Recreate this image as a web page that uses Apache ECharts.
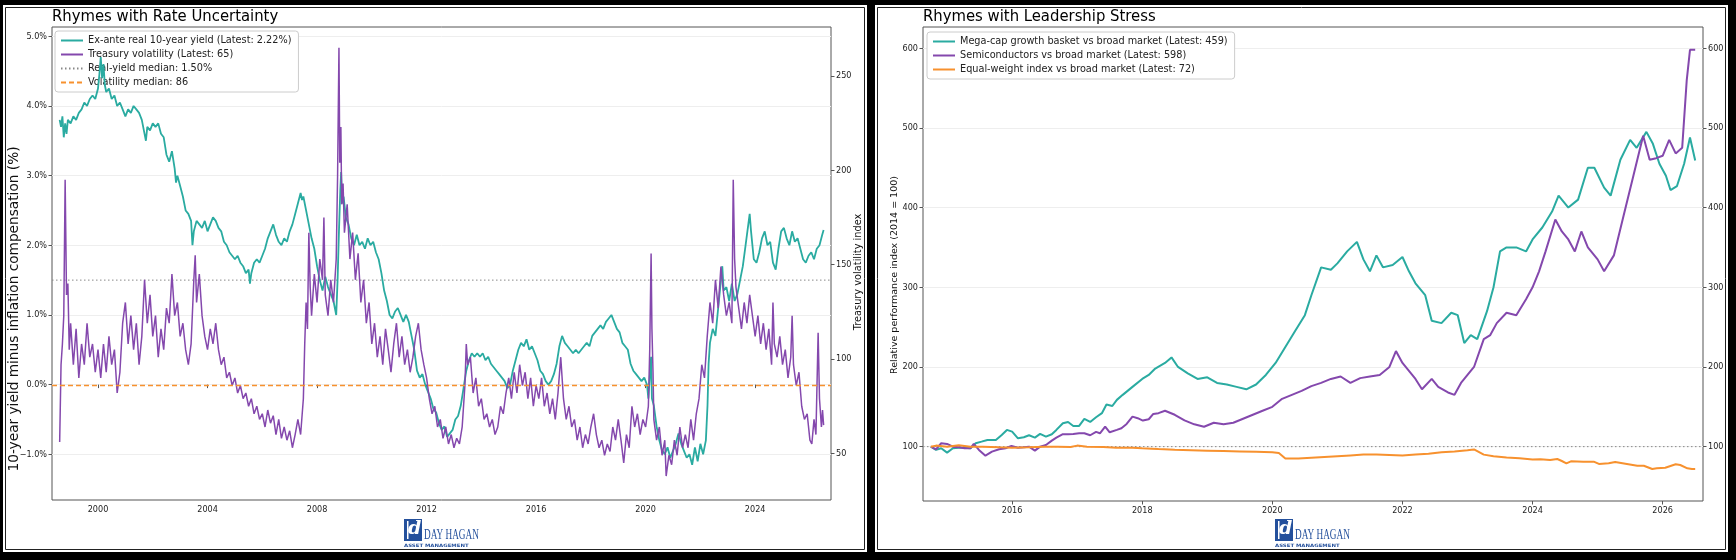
<!DOCTYPE html>
<html>
<head>
<meta charset="utf-8">
<script src="https://cdn.jsdelivr.net/npm/echarts@6/dist/echarts.min.js"></script>
<style>
  html, body { margin: 0; padding: 0; background: #000; }
  #chart { width: 1736px; height: 560px; }
</style>
</head>
<body>
<div id="chart"></div>
<script>
// ---------- left panel: real yield (%) ----------
var yieldDates = [1998.6,1998.65,1998.7,1998.75,1998.8,1998.85,1998.9,1999.0,1999.1,1999.2,1999.3,1999.4,1999.5,1999.6,1999.7,1999.8,1999.9,2000.0,2000.05,2000.1,2000.15,2000.2,2000.25,2000.3,2000.4,2000.5,2000.6,2000.7,2000.8,2000.9,2001.0,2001.1,2001.2,2001.3,2001.4,2001.5,2001.6,2001.7,2001.75,2001.8,2001.9,2002.0,2002.1,2002.2,2002.3,2002.4,2002.5,2002.6,2002.7,2002.8,2002.85,2002.9,2003.0,2003.1,2003.2,2003.3,2003.4,2003.45,2003.5,2003.6,2003.7,2003.8,2003.9,2004.0,2004.1,2004.2,2004.3,2004.4,2004.5,2004.6,2004.7,2004.8,2004.9,2005.0,2005.1,2005.2,2005.3,2005.4,2005.5,2005.55,2005.6,2005.7,2005.8,2005.9,2006.0,2006.1,2006.2,2006.3,2006.4,2006.5,2006.6,2006.7,2006.8,2006.9,2007.0,2007.1,2007.2,2007.3,2007.4,2007.45,2007.5,2007.6,2007.7,2007.8,2007.9,2008.0,2008.1,2008.2,2008.3,2008.4,2008.5,2008.6,2008.7,2008.75,2008.8,2008.85,2008.88,2008.92,2008.97,2009.05,2009.15,2009.25,2009.35,2009.45,2009.55,2009.65,2009.75,2009.85,2009.95,2010.05,2010.15,2010.25,2010.35,2010.45,2010.55,2010.65,2010.75,2010.85,2010.95,2011.05,2011.15,2011.25,2011.35,2011.45,2011.55,2011.65,2011.75,2011.85,2011.95,2012.05,2012.15,2012.25,2012.35,2012.45,2012.55,2012.65,2012.75,2012.85,2012.95,2013.05,2013.15,2013.25,2013.35,2013.45,2013.55,2013.65,2013.75,2013.85,2013.95,2014.05,2014.15,2014.25,2014.35,2014.45,2014.55,2014.65,2014.75,2014.85,2014.95,2015.05,2015.15,2015.25,2015.35,2015.45,2015.55,2015.65,2015.75,2015.85,2015.95,2016.05,2016.15,2016.25,2016.35,2016.45,2016.55,2016.65,2016.75,2016.85,2016.95,2017.05,2017.15,2017.25,2017.35,2017.45,2017.55,2017.65,2017.75,2017.85,2017.95,2018.05,2018.15,2018.25,2018.35,2018.45,2018.55,2018.65,2018.75,2018.85,2018.95,2019.05,2019.15,2019.25,2019.35,2019.45,2019.55,2019.65,2019.75,2019.85,2019.95,2020.05,2020.1,2020.15,2020.2,2020.23,2020.3,2020.4,2020.5,2020.59,2020.7,2020.8,2020.9,2021.0,2021.1,2021.2,2021.3,2021.4,2021.5,2021.6,2021.7,2021.8,2021.9,2022.0,2022.1,2022.2,2022.26,2022.3,2022.35,2022.45,2022.55,2022.65,2022.75,2022.8,2022.85,2022.95,2023.05,2023.15,2023.25,2023.35,2023.45,2023.55,2023.65,2023.75,2023.8,2023.85,2023.95,2024.05,2024.15,2024.25,2024.35,2024.45,2024.55,2024.65,2024.75,2024.85,2024.95,2025.05,2025.15,2025.25,2025.35,2025.45,2025.55,2025.65,2025.75,2025.85,2025.95,2026.05,2026.15,2026.25,2026.35,2026.45,2026.5];
var yieldVals = [3.8,3.7,3.85,3.55,3.75,3.6,3.8,3.75,3.85,3.8,3.9,3.95,4.05,4.0,4.1,4.15,4.1,4.25,4.45,4.7,4.4,4.6,4.3,4.2,4.25,4.1,4.15,4.0,4.05,3.95,3.85,3.95,3.9,4.0,3.95,3.9,3.8,3.6,3.5,3.7,3.65,3.75,3.7,3.75,3.6,3.55,3.3,3.2,3.35,3.1,2.9,3.0,2.85,2.7,2.5,2.45,2.35,2.0,2.2,2.35,2.3,2.25,2.35,2.2,2.3,2.4,2.35,2.25,2.2,2.05,2.0,1.9,1.85,1.8,1.85,1.75,1.7,1.6,1.65,1.45,1.6,1.75,1.8,1.75,1.85,1.95,2.1,2.2,2.3,2.15,2.05,2.0,2.1,2.05,2.2,2.3,2.45,2.6,2.75,2.65,2.7,2.5,2.3,2.1,1.95,1.7,1.5,1.35,1.55,1.4,1.3,1.2,1.0,1.5,2.2,2.8,3.05,2.6,2.7,2.4,2.3,2.1,2.0,2.15,2.0,2.05,1.95,2.1,2.0,2.05,1.9,1.8,1.6,1.35,1.2,1.0,0.95,1.05,1.1,1.0,0.9,1.0,0.9,0.7,0.5,0.2,0.1,0.15,0.0,-0.1,-0.2,-0.35,-0.4,-0.55,-0.65,-0.6,-0.75,-0.7,-0.65,-0.5,-0.45,-0.3,-0.05,0.2,0.35,0.45,0.4,0.45,0.4,0.45,0.35,0.4,0.3,0.25,0.2,0.15,0.1,0.05,-0.05,0.0,0.2,0.35,0.5,0.6,0.55,0.65,0.5,0.55,0.45,0.35,0.2,0.15,0.05,0.0,0.05,0.15,0.3,0.55,0.7,0.6,0.55,0.5,0.45,0.5,0.45,0.5,0.55,0.6,0.55,0.7,0.75,0.8,0.85,0.8,0.9,0.95,1.0,0.9,0.8,0.75,0.6,0.55,0.5,0.3,0.2,0.15,0.1,0.05,0.1,0.0,-0.2,0.1,0.4,-0.2,-0.3,-0.6,-0.8,-0.93,-1.0,-0.9,-1.05,-0.95,-0.85,-0.7,-0.85,-0.95,-1.05,-1.0,-1.15,-0.9,-1.1,-0.85,-1.0,-0.8,-0.3,0.3,0.6,0.8,0.7,1.1,1.5,1.7,1.35,1.4,1.2,1.45,1.2,1.3,1.5,1.7,2.0,2.3,2.45,2.2,1.8,1.75,1.9,2.1,2.2,2.0,2.05,1.75,1.65,1.95,2.2,2.25,2.1,2.0,2.2,2.05,2.1,1.95,1.8,1.75,1.85,1.9,1.8,1.95,2.0,2.15,2.22];

// ---------- left panel: treasury volatility index ----------
var volDates = [1998.6,1998.65,1998.7,1998.75,1998.8,1998.85,1998.9,1998.95,1999.0,1999.1,1999.2,1999.3,1999.4,1999.5,1999.6,1999.7,1999.8,1999.9,2000.0,2000.1,2000.2,2000.3,2000.4,2000.5,2000.6,2000.7,2000.8,2000.9,2001.0,2001.1,2001.2,2001.3,2001.4,2001.5,2001.6,2001.7,2001.8,2001.9,2002.0,2002.1,2002.2,2002.3,2002.4,2002.5,2002.6,2002.7,2002.8,2002.9,2003.0,2003.1,2003.2,2003.3,2003.4,2003.5,2003.55,2003.6,2003.7,2003.8,2003.9,2004.0,2004.1,2004.2,2004.3,2004.4,2004.5,2004.6,2004.7,2004.8,2004.9,2005.0,2005.1,2005.2,2005.3,2005.4,2005.5,2005.6,2005.7,2005.8,2005.9,2006.0,2006.1,2006.2,2006.3,2006.4,2006.5,2006.6,2006.7,2006.8,2006.9,2007.0,2007.1,2007.2,2007.3,2007.4,2007.5,2007.55,2007.6,2007.65,2007.7,2007.75,2007.8,2007.9,2008.0,2008.1,2008.2,2008.25,2008.3,2008.4,2008.5,2008.6,2008.7,2008.75,2008.8,2008.83,2008.87,2008.9,2008.95,2009.0,2009.1,2009.2,2009.3,2009.4,2009.5,2009.6,2009.7,2009.8,2009.9,2010.0,2010.1,2010.2,2010.3,2010.4,2010.5,2010.6,2010.7,2010.8,2010.9,2011.0,2011.1,2011.2,2011.3,2011.4,2011.5,2011.6,2011.7,2011.8,2011.9,2012.0,2012.1,2012.2,2012.3,2012.4,2012.5,2012.6,2012.7,2012.8,2012.9,2013.0,2013.1,2013.2,2013.3,2013.4,2013.45,2013.5,2013.6,2013.7,2013.8,2013.9,2014.0,2014.1,2014.2,2014.3,2014.4,2014.5,2014.6,2014.7,2014.8,2014.9,2015.0,2015.1,2015.2,2015.3,2015.4,2015.5,2015.6,2015.7,2015.8,2015.9,2016.0,2016.1,2016.2,2016.3,2016.4,2016.5,2016.6,2016.7,2016.8,2016.9,2017.0,2017.1,2017.2,2017.3,2017.4,2017.5,2017.6,2017.7,2017.8,2017.9,2018.0,2018.1,2018.2,2018.3,2018.4,2018.5,2018.6,2018.7,2018.8,2018.9,2019.0,2019.1,2019.2,2019.3,2019.4,2019.5,2019.6,2019.7,2019.8,2019.9,2020.0,2020.1,2020.15,2020.2,2020.23,2020.27,2020.3,2020.4,2020.5,2020.6,2020.7,2020.75,2020.85,2020.95,2021.05,2021.15,2021.25,2021.35,2021.45,2021.55,2021.65,2021.75,2021.85,2021.95,2022.05,2022.15,2022.25,2022.35,2022.45,2022.55,2022.65,2022.75,2022.85,2022.95,2023.05,2023.15,2023.2,2023.25,2023.3,2023.4,2023.5,2023.6,2023.7,2023.8,2023.9,2024.0,2024.1,2024.2,2024.3,2024.4,2024.5,2024.6,2024.65,2024.7,2024.8,2024.9,2025.0,2025.1,2025.2,2025.3,2025.35,2025.4,2025.5,2025.6,2025.7,2025.8,2025.9,2026.0,2026.07,2026.15,2026.22,2026.3,2026.35,2026.42,2026.46,2026.5];
var volVals = [56,97,108,123,195,134,140,105,119,97,116,90,108,97,119,101,108,93,105,90,108,93,112,97,105,82,93,119,130,108,123,105,119,97,112,142,119,134,112,123,101,116,105,127,119,145,123,130,112,119,105,97,108,142,155,130,145,123,112,105,116,108,119,105,97,101,90,93,86,90,82,86,79,82,75,79,71,75,68,71,64,73,66,70,60,68,58,64,57,62,53,60,68,60,79,108,130,116,167,138,123,145,130,153,142,175,134,123,142,130,153,197,265,204,223,182,193,167,182,153,167,142,156,130,142,119,130,108,119,101,112,97,116,105,93,108,119,101,112,97,105,93,101,112,119,105,97,90,79,71,75,64,68,58,64,55,60,53,58,55,64,86,108,97,101,82,90,75,79,68,71,64,68,60,64,75,71,82,90,79,93,82,97,86,93,79,90,75,86,79,90,75,82,71,79,68,82,101,79,68,75,64,68,57,64,53,60,55,64,71,60,53,57,49,55,51,64,57,68,57,45,60,53,75,64,71,60,68,64,75,105,156,116,93,68,57,64,49,57,38,49,44,57,49,64,53,60,53,68,57,71,79,97,90,112,130,119,142,127,149,134,123,130,119,195,153,138,127,116,130,119,134,123,112,123,108,119,105,116,97,130,108,101,112,97,105,90,101,123,97,86,93,75,68,71,57,55,68,60,114,79,64,73,65];

var realYieldMedian = 1.5;
var volMedian = 86;

// ---------- right panel ----------
var megaDates = [2014.75,2014.83,2014.91,2015.0,2015.09,2015.18,2015.27,2015.36,2015.44,2015.53,2015.62,2015.75,2015.84,2015.92,2016.0,2016.09,2016.18,2016.26,2016.35,2016.43,2016.52,2016.61,2016.68,2016.78,2016.86,2016.94,2017.03,2017.11,2017.2,2017.29,2017.38,2017.45,2017.54,2017.61,2017.7,2017.85,2018.0,2018.1,2018.2,2018.35,2018.45,2018.55,2018.7,2018.85,2019.0,2019.15,2019.3,2019.45,2019.6,2019.75,2019.9,2020.05,2020.2,2020.35,2020.5,2020.6,2020.75,2020.9,2021.0,2021.15,2021.3,2021.4,2021.5,2021.6,2021.7,2021.85,2022.0,2022.1,2022.2,2022.35,2022.45,2022.6,2022.75,2022.85,2022.95,2023.05,2023.15,2023.3,2023.4,2023.5,2023.6,2023.75,2023.9,2024.0,2024.15,2024.3,2024.4,2024.55,2024.7,2024.85,2024.95,2025.1,2025.2,2025.35,2025.5,2025.6,2025.75,2025.85,2025.95,2026.05,2026.12,2026.22,2026.33,2026.42,2026.5];
var megaVals = [100,95.9,98,92.5,98,98.7,98.7,98,104.3,106.3,108.4,108.4,114.7,121,118.9,110.5,111.8,114.3,111.3,116,112.6,115.6,121,129.4,131,126,126,134.8,131,136.9,142,152.8,151,158.7,165,175,185,190,198,205,212,200,192,185,187,180,178,175,172,178,190,205,225,245,265,290,325,322,330,345,357,335,320,340,325,328,338,320,305,290,258,255,268,265,230,240,235,270,300,345,350,350,345,360,375,395,415,400,410,450,450,425,415,460,485,475,495,480,455,440,422,427,455,488,459];
var semiDates = [2014.75,2014.83,2014.91,2015.0,2015.09,2015.18,2015.27,2015.36,2015.41,2015.49,2015.59,2015.69,2015.8,2015.9,2015.99,2016.09,2016.18,2016.26,2016.35,2016.43,2016.52,2016.61,2016.68,2016.78,2016.86,2016.94,2017.03,2017.11,2017.2,2017.29,2017.35,2017.43,2017.5,2017.61,2017.68,2017.76,2017.85,2017.93,2018.01,2018.1,2018.17,2018.25,2018.35,2018.5,2018.65,2018.8,2018.95,2019.1,2019.25,2019.4,2019.55,2019.7,2019.85,2020.0,2020.15,2020.3,2020.45,2020.6,2020.75,2020.9,2021.05,2021.2,2021.35,2021.5,2021.65,2021.8,2021.9,2022.0,2022.1,2022.2,2022.3,2022.45,2022.55,2022.7,2022.8,2022.9,2023.0,2023.1,2023.25,2023.35,2023.45,2023.6,2023.75,2023.9,2024.0,2024.1,2024.2,2024.35,2024.45,2024.55,2024.65,2024.75,2024.85,2025.0,2025.1,2025.25,2025.4,2025.55,2025.7,2025.8,2025.9,2026.0,2026.1,2026.2,2026.3,2026.37,2026.42,2026.5];
var semiVals = [100,96.7,104.3,103.4,100,99.2,98,98,103.4,95.9,88.7,93.7,96.7,98,100.9,98.7,99.2,100,95,100,102.1,107.5,111.3,115.6,115.6,116,116.8,116.8,114.3,118.5,116.8,125.1,118,121,123.1,128.5,137.7,135.7,132.7,134.4,141.1,142,145,140,133,128,125,130,128,130,135,140,145,150,160,165,170,176,180,185,188,180,186,188,190,200,220,205,195,185,172,185,175,168,165,180,190,200,235,240,255,268,265,285,300,320,345,385,370,360,345,370,350,335,320,340,390,440,490,460,462,465,485,468,475,560,598,598];
var eqwDates = [2014.75,2014.83,2015.0,2015.18,2015.36,2015.55,2015.8,2016.0,2016.26,2016.5,2016.7,2016.9,2017.0,2017.15,2017.4,2017.6,2017.85,2018.0,2018.15,2018.25,2018.5,2018.75,2019.0,2019.25,2019.5,2019.75,2020.0,2020.1,2020.2,2020.4,2020.6,2020.8,2021.0,2021.2,2021.4,2021.6,2021.8,2022.0,2022.2,2022.4,2022.6,2022.8,2023.0,2023.1,2023.25,2023.4,2023.6,2023.8,2024.0,2024.12,2024.27,2024.38,2024.45,2024.52,2024.59,2024.78,2024.94,2025.02,2025.17,2025.27,2025.45,2025.61,2025.71,2025.84,2025.91,2026.04,2026.12,2026.2,2026.27,2026.38,2026.45,2026.5];
var eqwVals = [100,101.3,100,101.7,100,100,99.2,98.7,99.2,100,100,99.6,101.3,100,99.6,98.7,98.7,97.9,97.5,97,96,95.5,95,94.5,94,93.5,93,92,85,85,86,87,88,89,90,90,89.5,89,90,91,93,94,95.5,96.5,90,88,86.5,85.5,84,84.2,83.3,84.5,82,79.1,81.6,81.2,81.2,78.3,79.1,80.8,78.3,76.1,76.1,72,72.8,73.6,75.8,77.9,77,72.8,72,72];

var baseLevel = 100;

// ticks
var leftYears = [2000,2004,2008,2012,2016,2020,2024];
var leftPctTicks = [-1,0,1,2,3,4,5];
var leftVolTicks = [50,100,150,200,250];
var rightYears = [2016,2018,2020,2022,2024,2026];
var rightIdxTicks = [100,200,300,400,500,600];

var TEAL = '#2aaba1', PURPLE = '#8448ad', ORANGE = '#f7912e';
var SPINE = '#555';
var FONT = '"DejaVu Sans Condensed", "DejaVu Sans"';
var BLUE = '#24509c';

function zip(a, b) { return a.map(function (d, i) { return [d, b[i]]; }); }

var xL = [1998.32, 2026.77];
var yL = [-1.656, 5.133];
var yLR = [25.3, 276.0];
var xR = [2014.63, 2026.62];
var yR = [31.8, 626.6];

function tickOpt(vals) {
  return { show: true, length: 3.5, lineStyle: { color: SPINE }, customValues: vals };
}
function labelOpt(vals, fmt) {
  return { color: '#222', fontSize: 9, fontFamily: FONT, margin: 5, customValues: vals,
    formatter: fmt || function (v) { return String(v); } };
}

function valAxis(opt) {
  var base = {
    type: 'value',
    axisLine: { show: false },
    splitLine: { show: false }
  };
  for (var k in opt) base[k] = opt[k];
  return base;
}

// rotated axis titles (placed like the source figure)
function sideLabel(x, y, text, size) {
  return { type: 'text', x: x, y: y, rotation: Math.PI / 2,
    style: { text: text, font: size + 'px "DejaVu Sans"', fill: '#111', align: 'center', verticalAlign: 'middle' } };
}

function legendBlock(left, top, names) {
  return {
    orient: 'vertical', left: left, top: top,
    data: names,
    itemWidth: 22, itemHeight: 8, itemGap: 3,
    itemStyle: { opacity: 0 },
    backgroundColor: '#fff', borderColor: '#ccc', borderWidth: 1, borderRadius: 3,
    padding: [4, 7, 4, 5],
    textStyle: { fontSize: 10.8, fontFamily: FONT, color: '#222' }
  };
}

function logo(x0) {
  return {
    type: 'group', x: x0, y: 519,
    children: [
      { type: 'rect', shape: { x: 0, y: 0, width: 18, height: 22 }, style: { fill: BLUE } },
      { type: 'rect', shape: { x: 3, y: 2, width: 1.5, height: 18 }, style: { fill: '#fff' } },
      { type: 'text', x: 4, y: 1, style: { text: 'd', font: 'italic bold 19px "DejaVu Serif"', fill: '#fff' } },
      { type: 'text', x: 20, y: 9, scaleX: 0.66, style: { text: 'DAY HAGAN', font: '14px "Liberation Serif"', fill: BLUE } },
      { type: 'text', x: 0, y: 24, scaleX: 1.2, style: { text: 'ASSET MANAGEMENT', font: 'bold 4.5px "DejaVu Sans"', fill: BLUE } }
    ]
  };
}

var chart = echarts.init(document.getElementById('chart'));

var option = {
  backgroundColor: '#000',
  animation: false,
  graphic: [
    { type: 'rect', z: -10, shape: { x: 3, y: 5, width: 864, height: 547 }, style: { fill: '#fff' } },
    { type: 'rect', z: -10, shape: { x: 875, y: 5, width: 853, height: 547 }, style: { fill: '#fff' } },
    { type: 'rect', z: -9, shape: { x: 5.5, y: 7.5, width: 859, height: 542 }, style: { fill: 'none', stroke: '#222', lineWidth: 1 } },
    { type: 'rect', z: -9, shape: { x: 877.5, y: 7.5, width: 848, height: 542 }, style: { fill: 'none', stroke: '#222', lineWidth: 1 } },
    sideLabel(14, 309, '10-year yield minus inflation compensation (%)', 13.7),
    sideLabel(858, 272, 'Treasury volatility index', 9.8),
    sideLabel(895, 275, 'Relative performance index (2014 = 100)', 9.5),
    logo(404),
    logo(1275)
  ],
  title: [
    { text: 'Rhymes with Rate Uncertainty', left: 52, top: 8, padding: 0,
      textStyle: { fontSize: 16.5, fontWeight: 'normal', fontFamily: FONT, color: '#000' } },
    { text: 'Rhymes with Leadership Stress', left: 923, top: 8, padding: 0,
      textStyle: { fontSize: 16.5, fontWeight: 'normal', fontFamily: FONT, color: '#000' } }
  ],
  legend: [
    legendBlock(55, 31, ['Ex-ante real 10-year yield (Latest: 2.22%)', 'Treasury volatility (Latest: 65)', 'Real-yield median: 1.50%', 'Volatility median: 86']),
    legendBlock(927, 32, ['Mega-cap growth basket vs broad market (Latest: 459)', 'Semiconductors vs broad market (Latest: 598)', 'Equal-weight index vs broad market (Latest: 72)'])
  ],
  grid: [
    { left: 52, right: 1736 - 831, top: 27, bottom: 60, show: true, borderColor: SPINE, borderWidth: 1, backgroundColor: 'transparent' },
    { left: 923, right: 1736 - 1703, top: 27, bottom: 59, show: true, borderColor: SPINE, borderWidth: 1, backgroundColor: 'transparent' }
  ],
  xAxis: [
    valAxis({ gridIndex: 0, min: xL[0], max: xL[1], axisTick: tickOpt(leftYears), axisLabel: labelOpt(leftYears) }),
    valAxis({ gridIndex: 1, min: xR[0], max: xR[1], axisTick: tickOpt(rightYears), axisLabel: labelOpt(rightYears) })
  ],
  yAxis: [
    valAxis({ gridIndex: 0, min: yL[0], max: yL[1], position: 'left',
      axisTick: tickOpt(leftPctTicks),
      axisLabel: labelOpt(leftPctTicks, function (v) { return (v < 0 ? '\u2212' : '') + Math.abs(v).toFixed(1) + '%'; }),
      splitLine: { show: true, lineStyle: { color: '#eee', width: 1 } } }),
    valAxis({ gridIndex: 0, min: yLR[0], max: yLR[1], position: 'right',
      axisTick: tickOpt(leftVolTicks), axisLabel: labelOpt(leftVolTicks) }),
    valAxis({ gridIndex: 1, min: yR[0], max: yR[1], position: 'left',
      axisTick: tickOpt(rightIdxTicks), axisLabel: labelOpt(rightIdxTicks),
      splitLine: { show: true, lineStyle: { color: '#eee', width: 1 } } }),
    valAxis({ gridIndex: 1, min: yR[0], max: yR[1], position: 'right',
      axisTick: tickOpt(rightIdxTicks), axisLabel: labelOpt(rightIdxTicks) })
  ],
  series: [
    { name: 'Real-yield median: 1.50%', type: 'line', xAxisIndex: 0, yAxisIndex: 0, symbol: 'none', z: 3,
      data: [[xL[0], realYieldMedian], [xL[1], realYieldMedian]],
      lineStyle: { color: '#888', width: 1, type: [1.5, 2.5] }, itemStyle: { color: '#888' } },
    { name: 'Ex-ante real 10-year yield (Latest: 2.22%)', type: 'line', xAxisIndex: 0, yAxisIndex: 0,
      symbol: 'none', data: zip(yieldDates, yieldVals), z: 4,
      lineStyle: { color: TEAL, width: 1.8 }, itemStyle: { color: TEAL } },
    { name: 'Treasury volatility (Latest: 65)', type: 'line', xAxisIndex: 0, yAxisIndex: 1,
      symbol: 'none', data: zip(volDates, volVals), z: 5,
      lineStyle: { color: PURPLE, width: 1.5 }, itemStyle: { color: PURPLE } },
    { name: 'Volatility median: 86', type: 'line', xAxisIndex: 0, yAxisIndex: 1, symbol: 'none', z: 6,
      data: [[xL[0], volMedian], [xL[1], volMedian]],
      lineStyle: { color: ORANGE, width: 1.3, type: [5, 3] }, itemStyle: { color: ORANGE } },

    { name: 'base', type: 'line', xAxisIndex: 1, yAxisIndex: 2, symbol: 'none', z: 3,
      data: [[xR[0], baseLevel], [xR[1], baseLevel]],
      lineStyle: { color: '#888', width: 1, type: [1.5, 2.5] } },
    { name: 'Mega-cap growth basket vs broad market (Latest: 459)', type: 'line', xAxisIndex: 1, yAxisIndex: 2,
      symbol: 'none', data: zip(megaDates, megaVals), z: 4,
      lineStyle: { color: TEAL, width: 2 }, itemStyle: { color: TEAL } },
    { name: 'Semiconductors vs broad market (Latest: 598)', type: 'line', xAxisIndex: 1, yAxisIndex: 2,
      symbol: 'none', data: zip(semiDates, semiVals), z: 5,
      lineStyle: { color: PURPLE, width: 2 }, itemStyle: { color: PURPLE } },
    { name: 'Equal-weight index vs broad market (Latest: 72)', type: 'line', xAxisIndex: 1, yAxisIndex: 2,
      symbol: 'none', data: zip(eqwDates, eqwVals), z: 6,
      lineStyle: { color: ORANGE, width: 2 }, itemStyle: { color: ORANGE } }
  ]
};

chart.setOption(option);
</script>
</body>
</html>
